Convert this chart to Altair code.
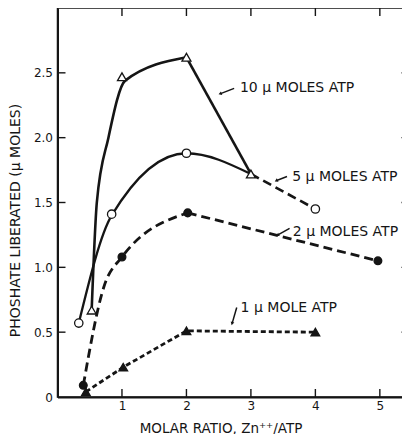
import altair as alt
import pandas as pd

INK = "#151515"
FONT = "DejaVu Sans"
W, H = 352, 389
X_MAX, Y_MAX = 5.46, 3.0

# ---- data ----------------------------------------------------------------
x_ticks = [1, 2, 3, 4, 5]
y_ticks = [0.5, 1.0, 1.5, 2.0, 2.5]
y_label_values = [0, 0.5, 1.0, 1.5, 2.0, 2.5]

# 10 umoles ATP (open triangles, solid line)
atp10_x = [0.53, 1.0, 2.0, 3.0]
atp10_y = [0.67, 2.47, 2.62, 1.72]
atp10_curve_x = [0.53, 0.61, 0.79, 1.05, 2.0]
atp10_curve_y = [0.67, 1.50, 2.00, 2.44, 2.62]
atp10_straight_x = [2.0, 3.0]
atp10_straight_y = [2.62, 1.72]

# 5 umoles ATP (open circles)
atp5_x = [0.33, 0.84, 2.0, 4.0]
atp5_y = [0.57, 1.41, 1.88, 1.45]
atp5_curve_x = [0.33, 0.84, 2.0, 3.0]
atp5_curve_y = [0.57, 1.40, 1.88, 1.72]
atp5_tail_x = [3.0, 4.0]
atp5_tail_y = [1.72, 1.45]

# 2 umoles ATP (filled circles, long dashes)
atp2_x = [0.40, 1.0, 2.02, 4.97]
atp2_y = [0.09, 1.08, 1.42, 1.05]
atp2_curve_x = [0.40, 0.72, 1.0, 2.02]
atp2_curve_y = [0.09, 0.85, 1.08, 1.42]
atp2_straight_x = [2.02, 4.97]
atp2_straight_y = [1.42, 1.05]

# 1 umole ATP (filled triangles, short dashes)
atp1_x = [0.44, 1.02, 2.0, 4.0]
atp1_y = [0.04, 0.23, 0.51, 0.50]

# annotations: label text, text anchor, arrow tail, arrow head (data units)
ann_text = ["10 μ MOLES ATP", "5 μ MOLES ATP", "2 μ MOLES ATP", "1 μ MOLE ATP"]
ann_x = [2.83, 3.64, 3.65, 2.84]
ann_y = [2.38, 1.70, 1.27, 0.69]
arrow_x = [2.74, 3.56, 3.60, 2.78]
arrow_y = [2.38, 1.70, 1.30, 0.69]
arrow_x2 = [2.53, 3.40, 3.42, 2.71]
arrow_y2 = [2.34, 1.67, 1.25, 0.57]
arrow_angle = [249, 243, 243, 197]

# ---- helpers --------------------------------------------------------------
xs = alt.Scale(domain=[0, X_MAX], nice=False, zero=False)
ys = alt.Scale(domain=[0, Y_MAX], nice=False, zero=False)

x_axis = alt.Axis(values=x_ticks, ticks=False, grid=False, domainColor=INK,
                  domainWidth=2, labelFont=FONT, labelFontSize=12, labelColor=INK,
                  labelPadding=3, title="MOLAR RATIO, Zn⁺⁺/ATP", titleFont=FONT,
                  titleFontSize=13.5, titleFontWeight="normal", titleColor=INK,
                  titleX=163, titleY=31, titleBaseline="middle")
y_axis = alt.Axis(values=y_label_values, ticks=False, grid=False, domainColor=INK,
                  domainWidth=2, labelFont=FONT, labelFontSize=12, labelColor=INK,
                  labelPadding=5,
                  labelExpr="datum.value == 0 ? '0' : format(datum.value, '.1f')",
                  title="PHOSHATE LIBERATED (μ MOLES)", titleFont=FONT,
                  titleFontSize=14, titleFontWeight="normal", titleColor=INK,
                  titleX=-42, titleY=212, titleAngle=270, titleBaseline="middle")


def X(f="x"):
    return alt.X(f"{f}:Q", scale=xs, axis=x_axis)


def Y(f="y"):
    return alt.Y(f"{f}:Q", scale=ys, axis=y_axis)


def df(x, y):
    return pd.DataFrame({"x": x, "y": y})


def line(x, y, dash=None, interp="monotone", width=2.6):
    kw = dict(color=INK, strokeWidth=width, interpolate=interp, strokeCap="butt")
    if dash:
        kw["strokeDash"] = dash
    return alt.Chart(df(x, y)).mark_line(**kw).encode(x=X(), y=Y())


def points(x, y, shape, filled, size):
    return alt.Chart(df(x, y)).mark_point(
        shape=shape, size=size, filled=True,
        fill=INK if filled else "white", stroke=INK, strokeWidth=1.3, opacity=1
    ).encode(x=X(), y=Y())


layers = []

# frame ticks (inward)
tx = pd.DataFrame({"x": x_ticks})
ty = pd.DataFrame({"y": y_ticks})
layers.append(alt.Chart(tx).mark_rule(color=INK, strokeWidth=1.4).encode(
    x=X(), y=alt.value(H), y2=alt.value(H - 8)))
layers.append(alt.Chart(tx).mark_rule(color=INK, strokeWidth=1.4).encode(
    x=X(), y=alt.value(0), y2=alt.value(8)))
layers.append(alt.Chart(ty).mark_rule(color=INK, strokeWidth=1.4).encode(
    y=Y(), x=alt.value(0), x2=alt.value(8)))
layers.append(alt.Chart(ty).mark_rule(color=INK, strokeWidth=1.4).encode(
    y=Y(), x=alt.value(W - 8), x2=alt.value(W)))

# curves
layers.append(line(atp10_curve_x, atp10_curve_y))
layers.append(line(atp10_straight_x, atp10_straight_y, interp="linear"))
layers.append(line(atp5_curve_x, atp5_curve_y, width=2.3))
layers.append(line(atp5_tail_x, atp5_tail_y, dash=[9, 5], interp="linear", width=2.6))
layers.append(line(atp2_curve_x, atp2_curve_y, dash=[9, 5], width=2.8))
layers.append(line(atp2_straight_x, atp2_straight_y, dash=[9, 5], interp="linear", width=2.8))
layers.append(line(atp1_x, atp1_y, dash=[5, 3], interp="linear", width=2.8))

# markers
layers.append(points(atp10_x, atp10_y, "triangle-up", False, 80))
layers.append(points(atp5_x, atp5_y, "circle", False, 70))
layers.append(points(atp2_x, atp2_y, "circle", True, 60))
layers.append(points(atp1_x, atp1_y, "triangle-up", True, 75))

# annotations
ann = pd.DataFrame({"t": ann_text, "x": ann_x, "y": ann_y})
arr = pd.DataFrame({"x": arrow_x, "y": arrow_y, "x2": arrow_x2, "y2": arrow_y2,
                    "a": arrow_angle})
layers.append(alt.Chart(ann).mark_text(align="left", baseline="middle", font=FONT,
                                       fontSize=14, color=INK).encode(
    x=X(), y=Y(), text="t:N"))
layers.append(alt.Chart(arr).mark_rule(color=INK, strokeWidth=1.5).encode(
    x=X(), y=Y(), x2="x2:Q", y2="y2:Q"))
layers.append(alt.Chart(arr).mark_point(shape="triangle", size=14, filled=True,
                                        color=INK, opacity=1).encode(
    x=alt.X("x2:Q", scale=xs, axis=x_axis), y=alt.Y("y2:Q", scale=ys, axis=y_axis),
    angle=alt.Angle("a:Q", scale=None)))

chart = alt.layer(*layers).properties(
    width=W, height=H, autosize="none",
    padding={"left": 49.5, "top": 0, "right": -8, "bottom": 37},
    background="white",
).configure_view(stroke=INK, strokeWidth=1.5)

chart.save("out.html", embed_options={"renderer": "svg", "actions": False})
